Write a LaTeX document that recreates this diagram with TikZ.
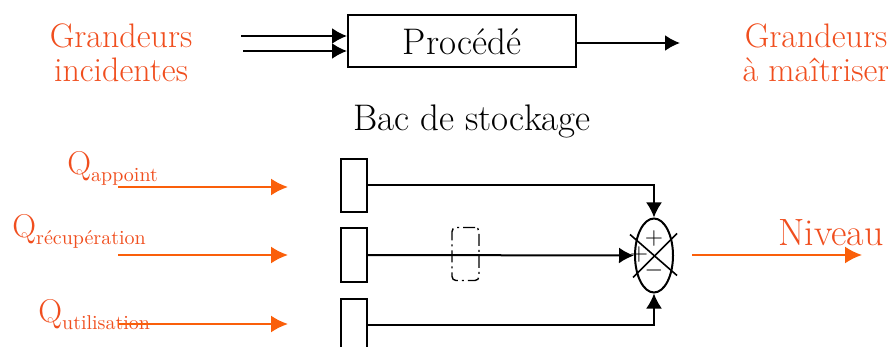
\documentclass[tikz,border=0pt]{standalone}
\usetikzlibrary{arrows.meta,shapes.geometric}
\definecolor{otxt}{RGB}{240,78,30}
\definecolor{oarw}{RGB}{250,95,10}
\begin{document}
\begin{tikzpicture}[x=0.5pt,y=-0.5pt,
  blk/.style={line width=1pt},
  arr/.style={line width=1pt,-{Latex[length=7.5pt,width=8pt]}},
  oarr/.style={line width=1pt,draw=oarw,-{Latex[length=8.5pt,width=8.5pt]}},
  otext/.style={text=otxt,font=\fontsize{17}{17}\selectfont},
  btext/.style={font=\fontsize{18.5}{20}\selectfont},
  qlab/.style={text=otxt,inner sep=0pt,anchor=base west,font=\fontsize{16.5}{18}\selectfont},
  smallbox/.style={draw,line width=1pt,minimum width=13pt,minimum height=26.5pt,inner sep=0pt},
  sgn/.style={inner sep=0pt,font=\fontsize{12}{13}\selectfont}]
\useasboundingbox (0,0) rectangle (888,347);
% top row
\node[draw,line width=1pt,minimum width=114pt,minimum height=26pt,btext] (proc) at (462,41.5) {Procédé};
\node[otext,align=center] (gi) at (121,53) {Grandeurs\\incidentes};
\node[otext,align=center] (gm) at (816,53) {Grandeurs\\à maîtriser};
\coordinate (i1) at (241,36);
\coordinate (i2) at (243,51);
\coordinate (o1) at (680,43);
\draw[arr] (i1) -- (i1 -| proc.west);
\draw[arr] (i2) -- (i2 -| proc.west);
\draw[arr] (proc.east |- o1) -- (o1);
% title
\node[btext,anchor=base] (bac) at (472,131) {Bac de stockage};
% bottom
\node[smallbox] (b1) at (354,185.5) {};
\node[smallbox] (b2) at (354,255) {};
\node[smallbox] (b3) at (354,325) {};
\node[draw,ellipse,line width=1pt,minimum width=19pt,minimum height=37pt,inner sep=0pt] (sum) at (654,255.5) {};
\node[draw,line width=0.7pt,rounded corners=2pt,dash pattern=on 6pt off 2pt on 1pt off 2pt,minimum width=13.5pt,minimum height=26.5pt,inner sep=0pt] (dd) at (465.5,254) {};
\draw[arr] (b1.east) -| (sum.north);
\draw[arr] (b2.east) -- (sum.west);
\draw[arr] (b3.east) -| (sum.south);
\draw[line width=0.8pt] ([shift={(-24,-21)}]sum.center) -- ([shift={(23,20)}]sum.center);
\draw[line width=0.8pt] ([shift={(-21,22)}]sum.center) -- ([shift={(23,-22)}]sum.center);
\node[sgn] (p1) at (654,238) {$+$};
\node[sgn] (m1) at (654,271) {$-$};
\node[sgn] (p2) at (639,254) {$+$};
% orange inputs
\node[qlab] (qa) at (67,175) {Q\raisebox{-3.5pt}{\fontsize{10}{12}\selectfont appoint}};
\node[qlab] (qr) at (12,237) {Q\raisebox{-3.5pt}{\fontsize{10}{12}\selectfont récupération}};
\node[qlab] (qu) at (38,322) {Q\raisebox{-3.5pt}{\fontsize{10}{12}\selectfont utilisation}};
\coordinate (a1) at (118,187); \coordinate (a2) at (288,187);
\coordinate (r1) at (118,255); \coordinate (r2) at (288,255);
\coordinate (u1) at (118,324); \coordinate (u2) at (288,324);
\draw[oarr] (a1) -- (a2);
\draw[oarr] (r1) -- (r2);
\draw[oarr] (u1) -- (u2);
% output
\node[text=otxt,anchor=base,inner sep=0pt,font=\fontsize{19}{21}\selectfont] (niv) at (831,246) {Niveau};
\coordinate (n1) at (692,255); \coordinate (n2) at (862,255);
\draw[oarr] (n1) -- (n2);
\end{tikzpicture}
\end{document}
